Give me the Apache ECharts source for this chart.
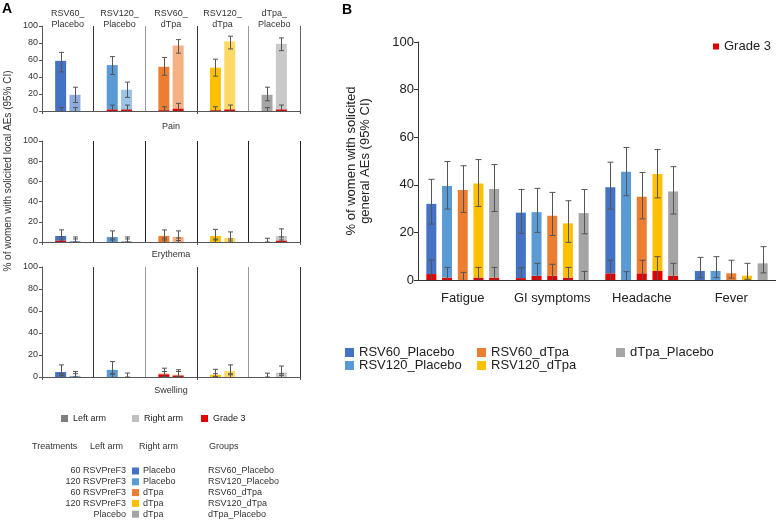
<!DOCTYPE html>
<html>
<head>
<meta charset="utf-8">
<script src="https://cdn.jsdelivr.net/npm/echarts@6/dist/echarts.min.js"></script>
<style>
html, body { margin: 0; padding: 0; background: #fff; }
#main { width: 776px; height: 520px; }
</style>
</head>
<body>
<div id="main"></div>
<script>
// groups / categories
var groups = ['RSV60_Placebo', 'RSV120_Placebo', 'RSV60_dTpa', 'RSV120_dTpa', 'dTpa_Placebo'];
var localAEs = ['Pain', 'Erythema', 'Swelling'];
var generalAEs = ['Fatigue', 'GI symptoms', 'Headache', 'Fever'];
var yMax = 100, yStep = 20;

// table under panel A
var treatLeftArm = ['60 RSVPreF3', '120 RSVPreF3', '60 RSVPreF3', '120 RSVPreF3', 'Placebo'];
var treatRightArm = ['Placebo', 'Placebo', 'dTpa', 'dTpa', 'dTpa'];

// panel A - pain
var painLeft = [59, 54, 52, 51, 19];
var painLeftCI = [[46, 69], [43, 64], [42, 63], [41, 61], [12, 28]];
var painRight = [19, 25, 77, 82, 79];
var painRightCI = [[10, 28], [16, 34], [68, 84], [73, 88], [71, 86]];
var painLeftG3 = [0, 2, 1, 1, 0];
var painLeftG3Hi = [4, 7, 5, 5, 4];
var painRightG3 = [0, 2, 3, 2, 2];
var painRightG3Hi = [4, 7, 9, 7, 7];

// panel A - erythema
var eryLeft = [6, 5, 6, 6, 0];
var eryLeftCI = [[2, 12], [2, 11], [2, 12], [2, 12.5], [0, 3.7]];
var eryRight = [1, 1, 5, 4, 6];
var eryRightCI = [[0, 5], [0, 5], [1.5, 11], [1, 10], [2, 13]];
var eryLeftG3 = [1.5, 0, 0, 0, 0];
var eryLeftG3Hi = [5, 3, 4, 3, 0];
var eryRightG3 = [0, 0, 0, 0, 1.5];
var eryRightG3Hi = [3, 3, 4, 3, 5];

// panel A - swelling
var swLeft = [4.5, 6.5, 3, 2, 0];
var swLeftCI = [[1.5, 11], [2.5, 14], [0.5, 8], [0.5, 7], [0, 3.5]];
var swRight = [1, 0, 2, 5.5, 4];
var swRightCI = [[0, 5], [0, 3.6], [0.3, 6.6], [2, 11], [1.5, 10]];
var swLeftG3 = [0, 0, 2.5, 0, 0];
var swLeftG3Hi = [3, 3, 5, 3, 0];
var swRightG3 = [0, 0, 1.5, 0, 0];
var swRightG3Hi = [3, 0, 5, 3, 3];

// panel B - general AEs per group (Fatigue, GI symptoms, Headache, Fever)
var b60P = [32, 28.3, 39, 3.8];
var b60PCI = [[23.5, 42.3], [19.6, 38], [29.8, 49.5], [1, 9.5]];
var b60PG3 = [2.5, 0.8, 2.8, 0];
var b60PG3Hi = [8.4, 5.2, 8.3, 0];
var b120P = [39.5, 28.5, 45.5, 3.8];
var b120PCI = [[29.8, 49.8], [20, 38.5], [35.4, 55.7], [1, 9.8]];
var b120PG3 = [1, 1.8, 0, 0];
var b120PG3Hi = [5.3, 7, 3.5, 0];
var b60D = [37.8, 27, 35, 2.8];
var b60DCI = [[28.4, 48], [18.7, 36.8], [25.7, 45.2], [0.8, 8.3]];
var b60DG3 = [0, 1.8, 2.8, 0];
var b60DG3Hi = [3.2, 6.6, 8.3, 0];
var b120D = [40.5, 23.8, 44.5, 1.8];
var b120DCI = [[30.9, 50.6], [15.8, 33.3], [34.5, 54.8], [0.3, 7]];
var b120DG3 = [1, 1, 3.8, 0];
var b120DG3Hi = [5.3, 5.3, 9.8, 0];
var bDP = [38.2, 28.1, 37.2, 7];
var bDPCI = [[28.8, 48.5], [19.4, 38], [27.7, 47.6], [3, 14]];
var bDPG3 = [1, 0, 1.8, 0];
var bDPG3Hi = [5.3, 3.6, 7, 0];

var colorsDark = ['#4472c4', '#5b9bd5', '#ed7d31', '#ffc000', '#a5a5a5'];
var colorsLight = ['#8faadc', '#9dc3e6', '#f4b183', '#ffd966', '#c9c9c9'];
var red = '#e00000';
var errColor = '#555';
var font = 'Liberation Sans, Arial, sans-serif';

var myChart = echarts.init(document.getElementById('main'));

function errRender(bw, gap, n, capW, topOnly) {
	return function (params, api) {
		var cat = api.value(0), lo = api.value(1), hi = api.value(2), j = api.value(3);
		var step = bw * (1 + gap);
		var x = api.coord([cat, 0])[0] + (j - (n - 1) / 2) * step;
		x = Math.round(x) + 0.5;
		var yLo = api.coord([cat, lo])[1], yHi = api.coord([cat, hi])[1];
		var st = {stroke: errColor, lineWidth: 1};
		var kids = [
			{type: 'line', shape: {x1: x, y1: yLo, x2: x, y2: yHi}, style: st},
			{type: 'line', shape: {x1: x - capW / 2, y1: yHi, x2: x + capW / 2, y2: yHi}, style: st}
		];
		if (!topOnly) {
			kids.push({type: 'line', shape: {x1: x - capW / 2, y1: yLo, x2: x + capW / 2, y2: yLo}, style: st});
		}
		return {type: 'group', children: kids};
	};
}

// panel A grids
var gridsA = [
	{left: 42, width: 258, top: 26, height: 85},
	{left: 42, width: 258, top: 141, height: 101},
	{left: 42, width: 258, top: 267, height: 110}
];
var nameGaps = [11, 8, 9];
var splitColors = [
	['#444', '#333', '#999', '#333', '#999', '#666'],
	['#222', '#222', '#222', '#222', '#222', '#222'],
	['#444', '#333', '#999', '#333', '#999', '#333']
];
var localData = [
	{L: painLeft, LCI: painLeftCI, R: painRight, RCI: painRightCI, LG3: painLeftG3, LG3Hi: painLeftG3Hi, RG3: painRightG3, RG3Hi: painRightG3Hi},
	{L: eryLeft, LCI: eryLeftCI, R: eryRight, RCI: eryRightCI, LG3: eryLeftG3, LG3Hi: eryLeftG3Hi, RG3: eryRightG3, RG3Hi: eryRightG3Hi},
	{L: swLeft, LCI: swLeftCI, R: swRight, RCI: swRightCI, LG3: swLeftG3, LG3Hi: swLeftG3Hi, RG3: swRightG3, RG3Hi: swRightG3Hi}
];

var grid = [], xAxis = [], yAxis = [], series = [];

localData.forEach(function (d, gi) {
	grid.push(gridsA[gi]);
	xAxis.push({
		type: 'category', gridIndex: gi, data: groups,
		axisLine: {lineStyle: {color: '#555'}},
		axisTick: {show: true, length: 3, lineStyle: {color: '#555'}},
		axisLabel: {show: false},
		splitLine: {show: true, interval: 0, lineStyle: {color: splitColors[gi], width: 1}},
		name: localAEs[gi], nameLocation: 'middle', nameGap: nameGaps[gi],
		nameTextStyle: {fontSize: 9, fontFamily: font, color: '#333'}
	});
	yAxis.push({
		type: 'value', gridIndex: gi, min: 0, max: yMax, interval: yStep,
		axisLine: {show: true, lineStyle: {color: '#555'}},
		axisTick: {show: true, length: 3, lineStyle: {color: '#555'}},
		axisLabel: {fontSize: 9, fontFamily: font, color: '#333', margin: 4},
		splitLine: {show: false}
	});
	var arms = [
		{key: 'L', vals: d.L, g3: d.LG3, cols: colorsDark, name: 'Left arm', color: '#7f7f7f'},
		{key: 'R', vals: d.R, g3: d.RG3, cols: colorsLight, name: 'Right arm', color: '#bfbfbf'}
	];
	arms.forEach(function (arm) {
		var stack = 'a' + gi + arm.key;
		series.push({
			name: 'Grade 3', type: 'bar', xAxisIndex: gi, yAxisIndex: gi, stack: stack,
			barWidth: 11, barGap: '30%', itemStyle: {color: red}, data: arm.g3
		});
		series.push({
			name: arm.name, type: 'bar', xAxisIndex: gi, yAxisIndex: gi, stack: stack,
			barWidth: 11, barGap: '30%', itemStyle: {color: arm.color},
			data: arm.vals.map(function (v, i) {
				return {value: v - arm.g3[i], itemStyle: {color: arm.cols[i]}};
			})
		});
	});
	var errData = [], g3Data = [];
	groups.forEach(function (g, i) {
		errData.push([i, d.LCI[i][0], d.LCI[i][1], 0]);
		errData.push([i, d.RCI[i][0], d.RCI[i][1], 1]);
		if (d.LG3Hi[i] > 0) g3Data.push([i, 0, d.LG3Hi[i], 0]);
		if (d.RG3Hi[i] > 0) g3Data.push([i, 0, d.RG3Hi[i], 1]);
	});
	series.push({
		type: 'custom', xAxisIndex: gi, yAxisIndex: gi, z: 5, silent: true,
		renderItem: errRender(11, 0.3, 2, 5, false), encode: {x: 0, y: [1, 2]}, data: errData
	});
	series.push({
		type: 'custom', xAxisIndex: gi, yAxisIndex: gi, z: 5, silent: true,
		renderItem: errRender(11, 0.3, 2, 5, true), encode: {x: 0, y: [1, 2]}, data: g3Data
	});
});

// group titles on top of the pain panel
xAxis.push({
	type: 'category', gridIndex: 0, position: 'top', offset: -4, data: groups,
	axisLine: {show: false}, axisTick: {show: false},
	axisLabel: {
		interval: 0, margin: 0, fontSize: 9, fontFamily: font, color: '#333', lineHeight: 11,
		formatter: function (v) { return v.replace('_', '_\n'); }
	}
});

// panel B
grid.push({left: 418, right: 0, top: 42, height: 238});
xAxis.push({
	type: 'category', gridIndex: 3, data: generalAEs,
	axisLine: {lineStyle: {color: '#333', width: 1.2}},
	axisTick: {show: false},
	axisLabel: {interval: 0, fontSize: 13, fontFamily: font, color: '#222', margin: 12}
});
yAxis.push({
	type: 'value', gridIndex: 3, min: 0, max: yMax, interval: yStep,
	axisLine: {show: true, lineStyle: {color: '#333'}},
	axisTick: {show: true, length: 4, lineStyle: {color: '#333'}},
	axisLabel: {fontSize: 13, fontFamily: font, color: '#222', margin: 4},
	splitLine: {show: false},
	name: '% of women with solicited\ngeneral AEs (95% CI)',
	nameLocation: 'middle', nameGap: 46,
	nameTextStyle: {fontSize: 13, fontFamily: font, color: '#222', lineHeight: 14}
});

var genVals = [b60P, b120P, b60D, b120D, bDP];
var genCI = [b60PCI, b120PCI, b60DCI, b120DCI, bDPCI];
var genG3 = [b60PG3, b120PG3, b60DG3, b120DG3, bDPG3];
var genG3Hi = [b60PG3Hi, b120PG3Hi, b60DG3Hi, b120DG3Hi, bDPG3Hi];
var bErr = [], bG3Err = [];
groups.forEach(function (g, j) {
	var stack = 'b' + j;
	series.push({
		name: 'Grade 3', type: 'bar', xAxisIndex: 4, yAxisIndex: 3, stack: stack,
		barWidth: 10, barGap: '57%', itemStyle: {color: red}, data: genG3[j]
	});
	series.push({
		name: g, type: 'bar', xAxisIndex: 4, yAxisIndex: 3, stack: stack,
		barWidth: 10, barGap: '57%', itemStyle: {color: colorsDark[j]},
		data: genVals[j].map(function (v, i) { return v - genG3[j][i]; })
	});
	generalAEs.forEach(function (ae, i) {
		bErr.push([i, genCI[j][i][0], genCI[j][i][1], j]);
		if (genG3Hi[j][i] > 0) bG3Err.push([i, 0, genG3Hi[j][i], j]);
	});
});
series.push({
	type: 'custom', xAxisIndex: 4, yAxisIndex: 3, z: 5, silent: true,
	renderItem: errRender(10, 0.57, 5, 6, false), encode: {x: 0, y: [1, 2]}, data: bErr
});
series.push({
	type: 'custom', xAxisIndex: 4, yAxisIndex: 3, z: 5, silent: true,
	renderItem: errRender(10, 0.57, 5, 6, true), encode: {x: 0, y: [1, 2]}, data: bG3Err
});

// legends
function leg(names, left, top, size, fs, orient) {
	return {
		data: names, left: left, top: top, orient: orient || 'horizontal',
		icon: 'rect', itemWidth: size, itemHeight: size, itemGap: 0, padding: 0,
		selectedMode: false,
		textStyle: {fontSize: fs, fontFamily: font, color: '#222', lineHeight: fs}
	};
}
var legend = [
	leg(['Left arm'], 61, 414, 7, 9),
	leg(['Right arm'], 132, 414, 7, 9),
	leg(['Grade 3'], 201, 414, 7, 9),
	leg(['Grade 3'], 713, 40, 6, 13),
	leg([groups[0], groups[1]], 345, 346, 9, 13, 'vertical'),
	leg([groups[2], groups[3]], 477, 346, 9, 13, 'vertical'),
	leg([groups[4]], 616, 346, 9, 13, 'vertical')
];

// panel letters, axis title for A, and treatment table
var graphic = [
	{type: 'text', x: 2, y: 2, style: {text: 'A', fontSize: 14, fontWeight: 'bold', fontFamily: font, fill: '#000'}},
	{type: 'text', x: 342, y: 3, style: {text: 'B', fontSize: 14, fontWeight: 'bold', fontFamily: font, fill: '#000'}},
	{type: 'text', x: 8, y: 171, rotation: Math.PI / 2,
		style: {text: '% of women with solicited local AEs (95% CI)', fontSize: 10, fontFamily: font, fill: '#333', align: 'center', verticalAlign: 'middle'}}
];
var headY = 447;
[['Treatments', 32], ['Left arm', 90], ['Right arm', 139], ['Groups', 209]].forEach(function (h) {
	graphic.push({type: 'text', x: h[1], y: headY, style: {text: h[0], fontSize: 9, fontFamily: font, fill: '#333', verticalAlign: 'middle'}});
});
groups.forEach(function (g, i) {
	var y = 471 + i * 10.8;
	graphic.push({type: 'text', x: 126, y: y, style: {text: treatLeftArm[i], fontSize: 9, fontFamily: font, fill: '#333', align: 'right', verticalAlign: 'middle'}});
	graphic.push({type: 'rect', shape: {x: 132, y: y - 3.5, width: 7, height: 7}, style: {fill: colorsDark[i]}});
	graphic.push({type: 'text', x: 143, y: y, style: {text: treatRightArm[i], fontSize: 9, fontFamily: font, fill: '#333', verticalAlign: 'middle'}});
	graphic.push({type: 'text', x: 208, y: y, style: {text: g, fontSize: 9, fontFamily: font, fill: '#333', verticalAlign: 'middle'}});
});

var option = {
	animation: false,
	textStyle: {fontFamily: font},
	grid: grid,
	xAxis: xAxis,
	yAxis: yAxis,
	legend: legend,
	graphic: graphic,
	series: series
};
myChart.setOption(option);
</script>
</body>
</html>
